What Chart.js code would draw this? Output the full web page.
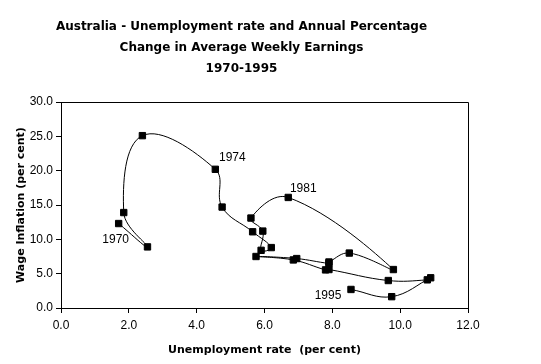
<!DOCTYPE html>
<html>
<head>
<meta charset="utf-8">
<script src="https://cdn.jsdelivr.net/npm/chart.js@4.4.1/dist/chart.umd.min.js"></script>
<style>
    html, body { margin: 0; padding: 0; background: #ffffff; }
</style>
</head>
<body>
<canvas id="wageChart" width="541" height="364"></canvas>
<script>
// Data (one point per year, 1970-1995)
const years = [1970, 1971, 1972, 1973, 1974, 1975, 1976, 1977, 1978, 1979, 1980, 1981, 1982,
               1983, 1984, 1985, 1986, 1987, 1988, 1989, 1990, 1991, 1992, 1993, 1994, 1995];
const unemployment = [1.7, 2.55, 1.85, 2.4, 4.55, 4.75, 5.65, 6.2, 5.9, 5.95, 5.6, 6.7, 9.8,
                      8.5, 7.9, 7.9, 6.95, 5.75, 6.85, 7.8, 7.9, 9.65, 10.8, 10.9, 9.75, 8.55];
const wageInflation = [12.3, 8.9, 13.9, 25.1, 20.2, 14.7, 11.1, 8.8, 8.4, 11.2, 13.1, 16.1, 5.6,
                       8.0, 6.7, 6.5, 7.2, 7.5, 7.0, 5.55, 5.6, 4.0, 4.1, 4.4, 1.65, 2.7];
const labelledYears = [1970, 1974, 1981, 1995];
const xTickValues = [0, 2, 4, 6, 8, 10, 12];
const yTickValues = [0, 5, 10, 15, 20, 25, 30];

const titleLines = [
    'Australia - Unemployment rate and Annual Percentage',
    'Change in Average Weekly Earnings',
    '1970-1995'
];

// where each year label sits relative to its marker (pixels)
const labelOffsets = { 1970: [-3, 16], 1974: [17, -12], 1981: [15, -9], 1995: [-23, 6] };

const boldFont = '"DejaVu Sans", "Liberation Sans", Arial, sans-serif';
Chart.defaults.font.family = '"Liberation Sans", Arial, sans-serif';
Chart.defaults.font.size = 12;
Chart.defaults.color = '#000000';

// box around the plot area (top and right sides)
const plotFrame = {
    id: 'plotFrame',
    afterDraw(chart) {
        const { ctx, chartArea: a } = chart;
        ctx.save();
        ctx.strokeStyle = '#000000';
        ctx.lineWidth = 1;
        ctx.beginPath();
        ctx.moveTo(Math.round(a.left) + 0.5, Math.round(a.top) + 0.5);
        ctx.lineTo(Math.round(a.right) + 0.5, Math.round(a.top) + 0.5);
        ctx.lineTo(Math.round(a.right) + 0.5, Math.round(a.bottom) + 0.5);
        ctx.stroke();
        ctx.restore();
    }
};

// year annotations next to their markers
const yearLabels = {
    id: 'yearLabels',
    afterDatasetsDraw(chart) {
        const { ctx, scales } = chart;
        ctx.save();
        ctx.font = '12px "Liberation Sans", Arial, sans-serif';
        ctx.fillStyle = '#000000';
        ctx.textAlign = 'center';
        ctx.textBaseline = 'middle';
        labelledYears.forEach(function(year) {
            const i = years.indexOf(year);
            const off = labelOffsets[year];
            const px = scales.x.getPixelForValue(unemployment[i]);
            const py = scales.y.getPixelForValue(wageInflation[i]);
            ctx.fillText(String(year), px + off[0], py + off[1]);
        });
        ctx.restore();
    }
};

const points = years.map((y, i) => ({ x: unemployment[i], y: wageInflation[i] }));

new Chart(document.getElementById('wageChart'), {
    type: 'scatter',
    data: {
        datasets: [{
            data: points,
            showLine: true,
            borderColor: '#000000',
            borderWidth: 1,
            tension: 0.4,
            pointStyle: 'rect',
            pointRadius: 4.5,
            pointBorderWidth: 1,
            pointBackgroundColor: '#000000',
            pointBorderColor: '#000000'
        }]
    },
    options: {
        responsive: false,
        animation: false,
        layout: {
            padding: { left: 15, right: 73, top: 0, bottom: 7 }
        },
        plugins: {
            legend: { display: false },
            tooltip: { enabled: false },
            title: {
                display: true,
                text: titleLines,
                color: '#000000',
                font: { family: boldFont, size: 12, weight: 'bold', lineHeight: 1.75 },
                padding: { top: 16.5, bottom: 22.5 }
            }
        },
        scales: {
            x: {
                type: 'linear',
                min: 0,
                max: 12,
                afterBuildTicks: function(scale) {
                    scale.ticks = xTickValues.map(v => ({ value: v }));
                },
                afterFit: function(scale) { scale.height = 49; },
                ticks: {
                    padding: 5,
                    color: '#000000',
                    callback: function(value) { return Number(value).toFixed(1); }
                },
                grid: { drawOnChartArea: false, tickLength: 5, color: '#000000' },
                border: { color: '#000000', width: 1 },
                title: {
                    display: true,
                    text: 'Unemployment rate  (per cent)',
                    color: '#000000',
                    font: { family: boldFont, size: 11, weight: 'bold' },
                    padding: { top: 0, bottom: 0 }
                }
            },
            y: {
                type: 'linear',
                min: 0,
                max: 30,
                afterBuildTicks: function(scale) {
                    scale.ticks = yTickValues.map(v => ({ value: v }));
                },
                afterFit: function(scale) { scale.width = 46; },
                ticks: {
                    padding: 3,
                    color: '#000000',
                    callback: function(value) { return Number(value).toFixed(1); }
                },
                grid: { drawOnChartArea: false, tickLength: 5, color: '#000000' },
                border: { color: '#000000', width: 1 },
                title: {
                    display: true,
                    text: 'Wage Inflation (per cent)',
                    color: '#000000',
                    font: { family: boldFont, size: 11, weight: 'bold' },
                    padding: { top: 0, bottom: 0 }
                }
            }
        }
    },
    plugins: [plotFrame, yearLabels]
});
</script>
</body>
</html>
